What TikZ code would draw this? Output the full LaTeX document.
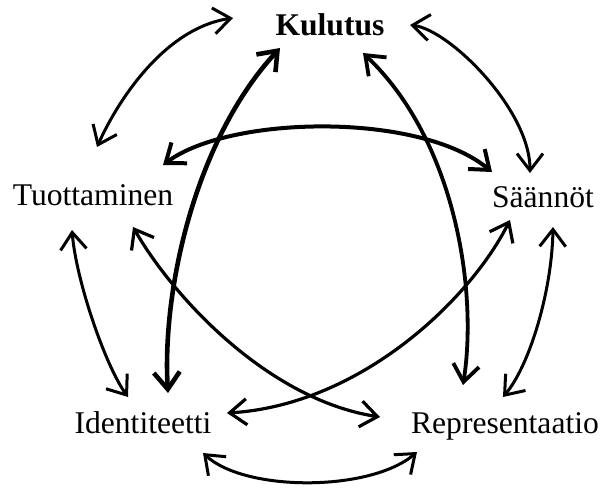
\documentclass[tikz,border=0pt]{standalone}
\usepackage{fontspec}
\setmainfont{Liberation Serif}
\usetikzlibrary{arrows.meta}

\tikzset{
  term/.style={anchor=base, inner sep=0pt, font=\fontsize{15.8}{19}\selectfont},
  link/.style={{Straight Barb[length=8.5pt,width=13pt]}-{Straight Barb[length=8.5pt,width=13pt]}, line width=1.5pt},
  heavylink/.style={link, line width=2.3pt}
}

\begin{document}
\begin{tikzpicture}[x=0.5pt, y=-0.5pt]
	\useasboundingbox (0,0) rectangle (600,488);
	% Terms
	\node[term] (kul) at (330,35) {\textbf{Kulutus}};
	\node[term] (tuo) at (93,205) {Tuottaminen};
	\node[term] (saa) at (543,207) {Säännöt};
	\node[term] (ide) at (143,433) {Identiteetti};
	\node[term] (rep) at (505,433) {Representaatio};

	% Outer ring
	\draw[link] ([shift={(4,-58)}]tuo.base) .. controls (118,100) and (165,28) .. ([shift={(-97,-17)}]kul.base);
	\draw[link] ([shift={(80,-10)}]kul.base) .. controls (450,30) and (530,110) .. ([shift={(-13,-34)}]saa.base);
	\draw[link] ([shift={(-21,25)}]tuo.base) .. controls (76,280) and (105,365) .. ([shift={(-15,-36)}]ide.base);
	\draw[link] ([shift={(10,20)}]saa.base) .. controls (552,290) and (530,365) .. ([shift={(-2,-36)}]rep.base);
	\draw[link] ([shift={(60,20)}]ide.base) .. controls (245,492) and (370,492) .. ([shift={(-88,19)}]rep.base);

	% Inner star
	\draw[heavylink] ([shift={(-50,13)}]kul.base) .. controls (195,140) and (162,290) .. ([shift={(25,-40)}]ide.base);
	\draw[link, line width=1.9pt] ([shift={(33,18)}]kul.base) .. controls (455,140) and (478,290) .. ([shift={(-42,-48)}]rep.base);
	\draw[link, line width=2pt] ([shift={(70,-40)}]tuo.base) .. controls (230,115) and (420,112) .. ([shift={(-51,-35)}]saa.base);
	\draw[link, line width=1.6pt] ([shift={(40,22)}]tuo.base) .. controls (175,300) and (270,400) .. ([shift={(-125,-16)}]rep.base);
	\draw[link, line width=1.6pt] ([shift={(-33,13)}]saa.base) .. controls (470,300) and (360,405) .. ([shift={(84,-20)}]ide.base);
\end{tikzpicture}
\end{document}
